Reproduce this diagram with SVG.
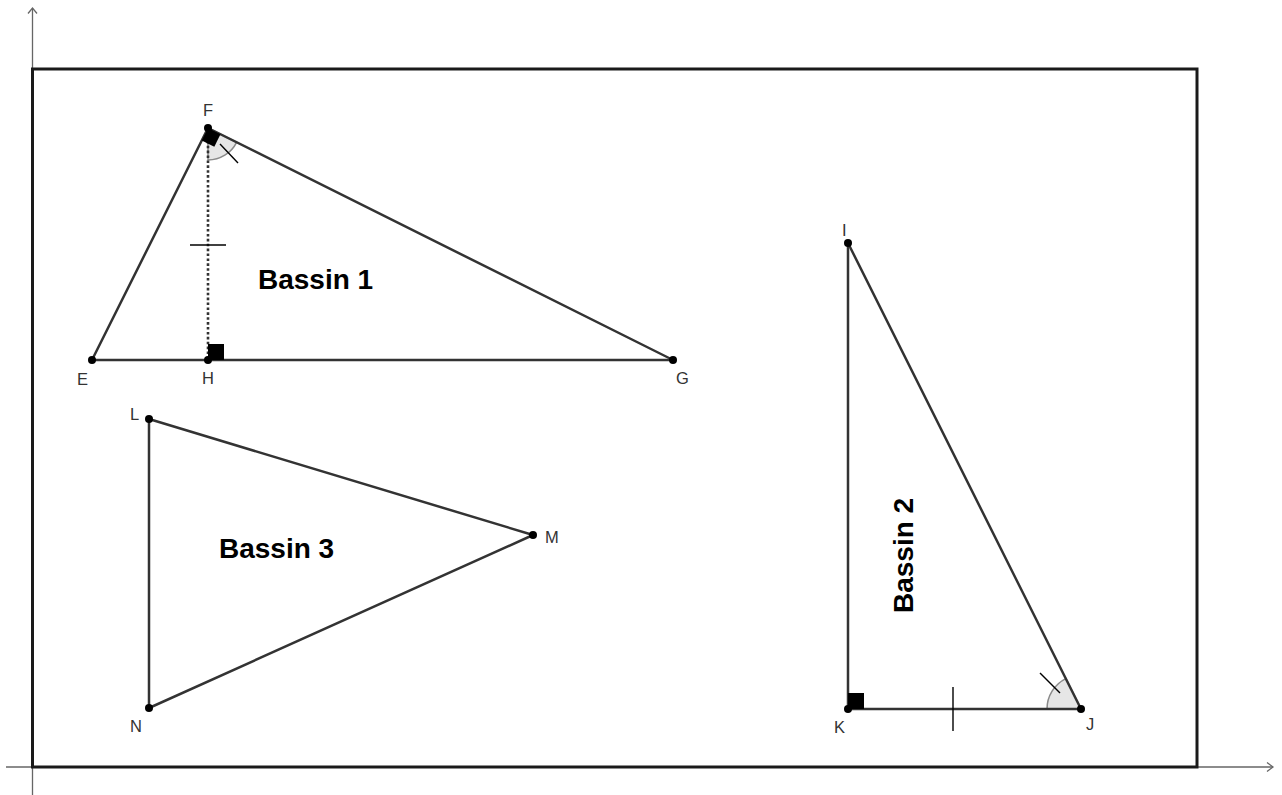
<svg xmlns="http://www.w3.org/2000/svg" width="1282" height="795" viewBox="0 0 1282 795">
<style>
.edge{stroke:#333;stroke-width:2.5;fill:none;stroke-linecap:round}
.axis{stroke:#666;stroke-width:1.3;fill:none}
.pt{fill:#000}
.lbl{font-family:"Liberation Sans",Arial,sans-serif;font-size:16.5px;fill:#333}
.big{font-family:"Liberation Sans",Arial,sans-serif;font-size:28px;font-weight:bold;fill:#000}
.ang{fill:#e6e6e6;stroke:#8a8a8a;stroke-width:1.5}
.tick{stroke:#000;stroke-width:1.4}
.ra{fill:#000}
</style>
<rect width="1282" height="795" fill="#fff"/>
<g id="axes">
<line class="axis" x1="32.5" y1="795" x2="32.5" y2="8"/>
<polyline class="axis" points="28,13.5 32.5,8 37,13.5"/>
<line class="axis" x1="6" y1="767" x2="1273" y2="767"/>
<polyline class="axis" points="1267,762.5 1273,767 1267,771.5"/>
</g>
<g id="frame">
<rect x="32.5" y="69" width="1164.5" height="698" fill="none" stroke="#1a1a1a" stroke-width="3"/>
</g>
<g id="connectors">
<path class="ang" d="M208,128 L208,160 A32,32 0 0 0 236.6,142.3 Z"/>
<path class="ang" d="M1081,709 L1047,709 A34,34 0 0 1 1065.8,678.6 Z"/>
<line class="edge" x1="92" y1="360" x2="208" y2="128"/>
<line class="edge" x1="208" y1="128" x2="673" y2="360"/>
<line class="edge" x1="92" y1="360" x2="673" y2="360"/>
<line x1="208" y1="131" x2="208" y2="360" stroke="#333" stroke-width="2.6" stroke-dasharray="2.6 2.3"/>
<line class="edge" x1="848" y1="243" x2="848" y2="709"/>
<line class="edge" x1="848" y1="709" x2="1081" y2="709"/>
<line class="edge" x1="848" y1="243" x2="1081" y2="709"/>
<line class="edge" x1="149" y1="419" x2="533" y2="535"/>
<line class="edge" x1="533" y1="535" x2="149" y2="708"/>
<line class="edge" x1="149" y1="419" x2="149" y2="708"/>
<polygon class="ra" points="208,128 201.7,140.5 214.3,146.8 220.5,134.3"/>
<rect class="ra" x="208" y="344" width="16" height="16"/>
<rect class="ra" x="848" y="693" width="16" height="16"/>
<line class="tick" x1="220" y1="144" x2="238" y2="163"/>
<line class="tick" x1="1040" y1="673" x2="1060" y2="693"/>
<line class="tick" x1="190" y1="245" x2="226" y2="245"/>
<line class="tick" x1="953" y1="687" x2="953" y2="731"/>
</g>
<g id="node-F"><circle class="pt" cx="208" cy="128" r="4"/><text class="lbl" x="203" y="116">F</text></g>
<g id="node-E"><circle class="pt" cx="92" cy="360" r="4"/><text class="lbl" x="77" y="385">E</text></g>
<g id="node-H"><circle class="pt" cx="208" cy="360" r="4"/><text class="lbl" x="202" y="384">H</text></g>
<g id="node-G"><circle class="pt" cx="673" cy="360" r="4"/><text class="lbl" x="676" y="384">G</text></g>
<g id="node-I"><circle class="pt" cx="848" cy="243" r="4"/><text class="lbl" x="842" y="236">I</text></g>
<g id="node-K"><circle class="pt" cx="848" cy="709" r="4"/><text class="lbl" x="834" y="733">K</text></g>
<g id="node-J"><circle class="pt" cx="1081" cy="709" r="4"/><text class="lbl" x="1086" y="730">J</text></g>
<g id="node-L"><circle class="pt" cx="149" cy="419" r="4"/><text class="lbl" x="130" y="420">L</text></g>
<g id="node-M"><circle class="pt" cx="533" cy="535" r="4"/><text class="lbl" x="545" y="543">M</text></g>
<g id="node-N"><circle class="pt" cx="149" cy="708" r="4"/><text class="lbl" x="130" y="732">N</text></g>
<g id="label-bassin1"><text class="big" x="258" y="289">Bassin 1</text></g>
<g id="label-bassin2"><text class="big" transform="translate(913,613) rotate(-90)">Bassin 2</text></g>
<g id="label-bassin3"><text class="big" x="219" y="558">Bassin 3</text></g>
</svg>
